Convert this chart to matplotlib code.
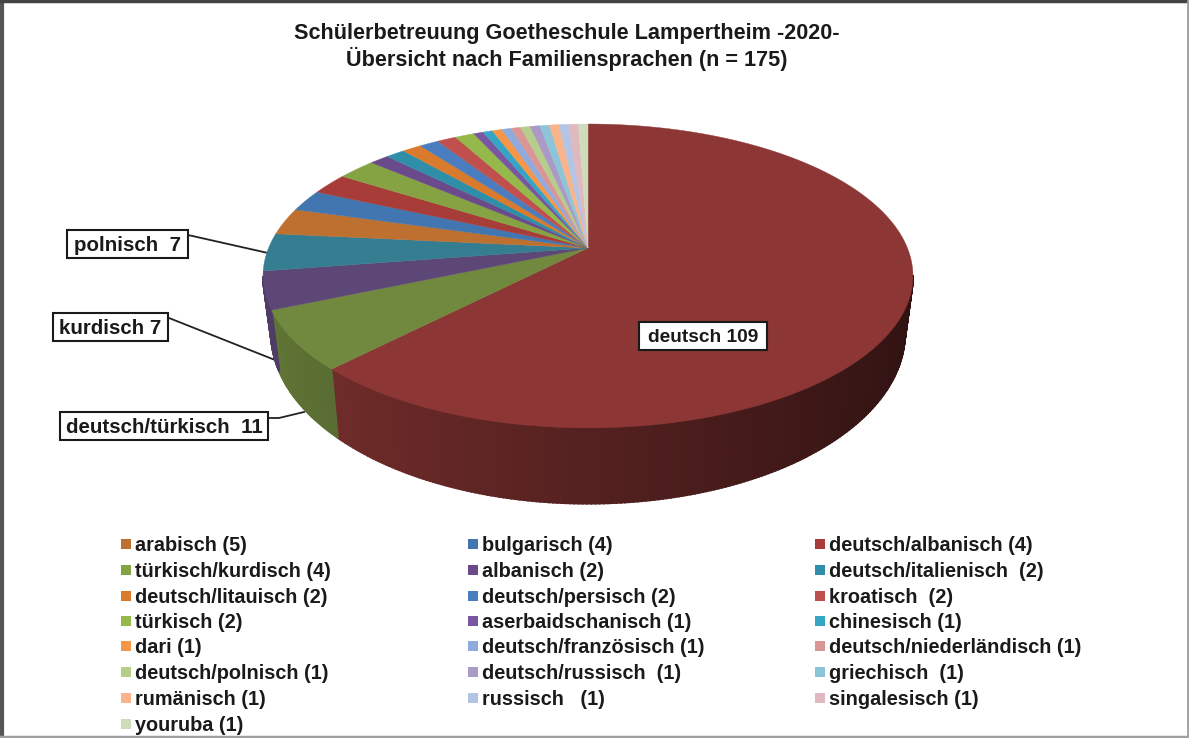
"""Family languages at Goetheschule Lampertheim, drawn as a tilted 3D pie."""

import matplotlib

matplotlib.use("Agg")

import matplotlib.pyplot as plt
import numpy as np
from matplotlib.patches import Rectangle

plt.rcParams["font.family"] = ["Liberation Sans", "DejaVu Sans"]

TITLE = "Schülerbetreuung Goetheschule Lampertheim -2020-\nÜbersicht nach Familiensprachen (n = 175)"

# clockwise from 12 o'clock
LANGUAGES = [
    "deutsch", "deutsch/türkisch", "kurdisch", "polnisch", "arabisch", "bulgarisch",
    "deutsch/albanisch", "türkisch/kurdisch", "albanisch", "deutsch/italienisch",
    "deutsch/litauisch", "deutsch/persisch", "kroatisch", "türkisch", "aserbaidschanisch",
    "chinesisch", "dari", "deutsch/französisch", "deutsch/niederländisch", "deutsch/polnisch",
    "deutsch/russisch", "griechisch", "rumänisch", "russisch", "singalesisch", "youruba",
]
COUNTS = [109, 11, 7, 7, 5, 4, 4, 4, 2, 2, 2, 2, 2, 2, 1, 1, 1, 1, 1, 1, 1, 1, 1, 1, 1, 1]
COLORS = [
    "#8c3735", "#71893f", "#5c4776", "#357d91", "#bd7030", "#4276b0",
    "#a83c39", "#85a342", "#6b4a8c", "#2f8fa8",
    "#d97a2c", "#4a7dbf", "#c0504d", "#94b84a", "#7a55a0",
    "#35a5c4", "#f79646", "#8faadc", "#d99694", "#b7cd8c",
    "#a99bc5", "#8ec4d8", "#fab48a", "#b3c4e4", "#e0b8c0", "#cfdcbc",
]

# legend entries keep the odd spacing of the original labels
LEGEND_LABELS = [
    "arabisch (5)", "bulgarisch (4)", "deutsch/albanisch (4)",
    "türkisch/kurdisch (4)", "albanisch (2)", "deutsch/italienisch  (2)",
    "deutsch/litauisch (2)", "deutsch/persisch (2)", "kroatisch  (2)",
    "türkisch (2)", "aserbaidschanisch (1)", "chinesisch (1)",
    "dari (1)", "deutsch/französisch (1)", "deutsch/niederländisch (1)",
    "deutsch/polnisch (1)", "deutsch/russisch  (1)", "griechisch  (1)",
    "rumänisch (1)", "russisch   (1)", "singalesisch (1)",
    "youruba (1)",
]
LEGEND_COLORS = COLORS[4:]

# pie geometry in pixels
APEX_X, APEX_Y = 588, 248
RADIUS_X, RADIUS_Y = 319.4, 146.8
PERSPECTIVE = 0.184
# the lower rim of the wall is a slightly different ellipse
FLOOR_SCALE_X, FLOOR_SCALE_Y = 0.975, 1.12
FLOOR_DROP = 54


def rim(theta):
    """Project clockwise angles (radians from the top) onto the pie's top rim."""
    u, v = np.sin(theta), np.cos(theta)
    w = 1 + PERSPECTIVE * v
    return APEX_X + RADIUS_X * u / w, APEX_Y - RADIUS_Y * v / w


def floor_rim(theta):
    xs, ys = rim(theta)
    return (APEX_X + (xs - APEX_X) * FLOOR_SCALE_X,
            APEX_Y + (ys - APEX_Y) * FLOOR_SCALE_Y + FLOOR_DROP)


def shade(color, factor):
    rgb = np.array(matplotlib.colors.to_rgb(color))
    return tuple(rgb * factor)


def draw_pie(ax):
    edges = np.concatenate([[0], np.cumsum(COUNTS)]) / sum(COUNTS) * 2 * np.pi

    # side wall first, only the part that faces the viewer
    for start, end, color in zip(edges[:-1], edges[1:], COLORS):
        theta = np.linspace(start, end, max(int((end - start) * 90), 2))
        for a, b in zip(theta[:-1], theta[1:]):
            if np.cos((a + b) / 2) > -PERSPECTIVE:
                continue
            pair = np.array([a, b])
            xs, ys = rim(pair)
            fx, fy = floor_rim(pair)
            c = shade(color, 0.6 - 0.27 * np.sin((a + b) / 2))
            ax.fill([xs[0], xs[1], fx[1], fx[0]], [ys[0], ys[1], fy[1], fy[0]],
                    color=c, lw=1.5, zorder=2)

    for start, end, color in zip(edges[:-1], edges[1:], COLORS):
        theta = np.linspace(start, end, max(int((end - start) * 90), 2))
        xs, ys = rim(theta)
        ax.fill(np.r_[APEX_X, xs], np.r_[APEX_Y, ys], color=color, lw=0.3, zorder=3)


def draw_callout(ax, label, left, top, right, bottom, size=14.8):
    ax.add_patch(Rectangle((left, top), right - left, bottom - top, fc="white",
                           ec="#1a1a1a", lw=1.5, zorder=5))
    ax.text((left + right) / 2, (top + bottom) / 2 + 1.5, label, fontsize=size,
            fontweight="bold", color="#1a1a1a", va="center", ha="center", zorder=6)


def draw_callouts(ax):
    ax.plot([188, 268], [235, 253], color="#222222", lw=1.3, zorder=1)
    ax.plot([169, 275], [318, 360], color="#222222", lw=1.3, zorder=1)
    ax.plot([268, 279, 304], [418, 418, 412], color="#222222", lw=1.3, zorder=1)
    draw_callout(ax, "polnisch  7", 67, 230, 188, 258)
    draw_callout(ax, "kurdisch 7", 53, 313, 168, 341)
    draw_callout(ax, "deutsch/türkisch  11", 60, 412, 268, 440)
    draw_callout(ax, "deutsch 109", 639, 322, 767, 350, size=13.8)


def draw_legend(ax):
    col_x = [121, 468, 815]
    row_y = [544, 570, 596, 621, 646, 672, 698, 724]
    for i, (label, color) in enumerate(zip(LEGEND_LABELS, LEGEND_COLORS)):
        row, col = divmod(i, 3)
        ax.scatter([col_x[col] + 5], [row_y[row]], marker="s", s=62, color=color, lw=0)
        ax.text(col_x[col] + 14, row_y[row] + 1.5, label, fontsize=14.3, fontweight="bold",
                color="#1a1a1a", va="center", ha="left")


def draw_frame(ax):
    ax.plot([2, 2], [0, 738], color="#555555", lw=3)
    ax.plot([0, 1189], [1, 1], color="#444444", lw=2.5)
    ax.plot([1187.5, 1187.5], [0, 738], color="#a0a0a0", lw=2)
    ax.plot([0, 1189], [736.5, 736.5], color="#a0a0a0", lw=2.5)


def main():
    fig = plt.figure(figsize=(11.89, 7.38), dpi=100, facecolor="white")
    ax = fig.add_axes([0, 0, 1, 1])
    ax.set_xlim(0, 1189)
    ax.set_ylim(738, 0)
    ax.axis("off")

    draw_pie(ax)
    draw_callouts(ax)
    draw_legend(ax)
    draw_frame(ax)
    ax.text(567, 47, TITLE, fontsize=15.6, fontweight="bold", color="#1a1a1a",
            ha="center", va="center", linespacing=1.12)

    fig.savefig("out.png", dpi=100)


if __name__ == "__main__":
    main()
